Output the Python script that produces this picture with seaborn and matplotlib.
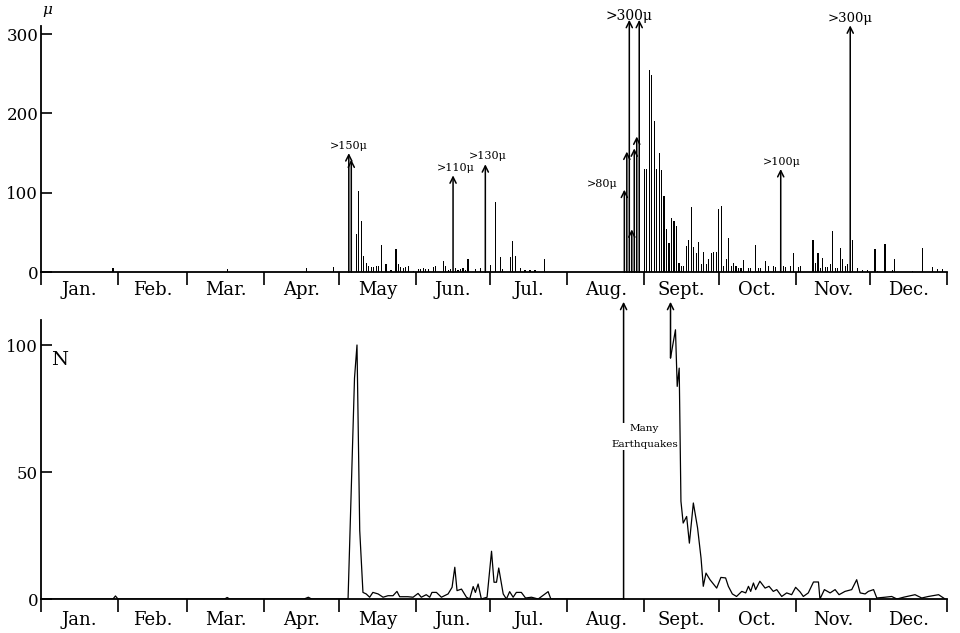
import matplotlib
matplotlib.use("Agg")
import matplotlib.pyplot as plt
import numpy as np
import pandas as pd
import seaborn as sns

month_names = ["Jan.", "Feb.", "Mar.", "Apr.", "May", "Jun.", "Jul.", "Aug.",
               "Sept.", "Oct.", "Nov.", "Dec."]
month_starts = [0, 31, 59, 90, 120, 151, 181, 212, 243, 273, 304, 334, 365]

# daily maximum amplitude (micron), by day of year
amp_days = [29, 75, 107, 118,
            127, 128, 129, 130, 131, 132, 133, 134, 135, 136, 137, 139, 141, 143, 144, 145,
            146, 147, 148, 150, 152, 153, 154, 155, 156, 158, 159, 162, 163, 164, 165, 167,
            168, 169, 170, 171, 172, 175, 177, 181, 183, 185, 186, 189, 190, 191, 193, 195,
            197, 199, 203,
            243, 244, 245, 246, 247, 248, 249, 250, 251, 252, 253, 254, 255, 256, 257, 258,
            259, 260, 261, 262, 263, 264, 265, 266, 267, 268, 269, 270, 271, 272, 273, 274,
            275, 276, 277, 278, 279, 280, 281, 282, 283, 285, 286, 288, 289, 290, 292, 293,
            295, 296, 299, 300, 302, 303, 305, 306, 311, 312, 313, 314, 315, 316, 317, 318,
            319, 320, 321, 322, 323, 324, 325, 327, 329, 331, 333, 336, 337, 340, 343, 344,
            351, 355, 359, 361, 363]
amp_values = [5, 4, 5, 6,
              48, 102, 65, 20, 12, 8, 7, 7, 8, 8, 34, 10, 3, 29, 10, 6,
              5, 7, 8, 2, 4, 4, 5, 4, 4, 6, 8, 14, 8, 3, 4, 5,
              3, 4, 5, 3, 16, 4, 5, 9, 88, 19, 4, 19, 39, 20, 5, 3,
              3, 3, 17,
              130, 130, 255, 249, 190, 130, 150, 129, 96, 54, 37, 68, 64, 58, 11, 8,
              8, 33, 41, 82, 32, 24, 38, 10, 25, 10, 17, 24, 25, 25, 80, 83,
              8, 16, 43, 8, 12, 8, 5, 5, 15, 5, 5, 34, 5, 5, 14, 8,
              8, 6, 8, 6, 8, 24, 7, 8, 41, 12, 24, 5, 18, 6, 6, 10,
              52, 5, 5, 30, 16, 8, 10, 40, 5, 3, 3, 29, 2, 36, 3, 16,
              2, 30, 6, 4, 4]

# days whose amplitude went off the instrument, drawn as arrows
arrow_days = [124, 125, 166, 179, 235, 236, 237, 238, 239, 240, 241, 298, 326]
arrow_values = [150, 142, 122, 136, 104, 152, 318, 54, 156, 171, 318, 130, 311]
label_days = [124, 166, 179, 235, 237, 298, 326]
label_texts = [">150μ", ">110μ", ">130μ", ">80μ", ">300μ", ">100μ", ">300μ"]

# number of shocks per day
count_days_a = [0, 29, 30, 31, 74, 75, 76, 106, 107.7, 109, 123.7, 126.3, 127.3, 128.4,
                129.7, 131, 132.4, 133.7, 135.8, 137.8, 139.8, 141.8, 143.4, 144.5,
                147.8, 149.9, 151.9, 153.2, 155.2, 156.6, 157.5, 159.3, 161.3, 164,
                165.6, 166.7, 167.6, 169.4, 171.4, 172.7, 174.1, 175, 176.1, 177.4,
                179.7, 181.5, 182.5, 183.5, 184.4, 186.2, 187.5, 188.8, 190.2, 191.5,
                193.5, 195.2, 197.6, 200.3, 204.3, 205.4, 234.7]
count_values_a = [0, 0, 1.2, 0, 0, 0.6, 0, 0, 0.7, 0, 0, 87, 100, 27,
                  2.6, 2, 0.7, 2.6, 2, 0.7, 1.3, 1.3, 3, 0.9,
                  0.9, 0.7, 2.2, 0.7, 1.7, 0.7, 2.6, 2.6, 0.7, 2,
                  4.6, 12.5, 3.3, 3.9, 0.7, 0, 4.9, 2.6, 5.9, 0,
                  0.7, 18.8, 6.6, 6.6, 12.2, 2, 0, 2.9, 0.7, 2.6,
                  2.6, 0.4, 0.7, 0, 2.9, 0, 0]
count_days_b = [253.6, 255.6, 256.3, 257.1, 257.8, 258.7, 260.1, 261.2, 262.8, 264.5,
                265.9, 266.8, 267.9, 269.5, 272.2, 273.9, 275.8, 276.9, 278.5, 280.2,
                282.3, 283.9, 285, 285.9, 287, 287.9, 289.6, 291.7, 293.3, 295,
                296.4, 298.4, 300.4, 302.4, 304, 305.8, 307.1, 309.1, 311.2, 313.2,
                313.8, 315.6, 317.9, 319.9, 321.5, 323.9, 326.6, 328.6, 330, 332,
                333.3, 335.4, 336.7, 340, 342.7, 344.8, 347.5, 352.1, 354.8, 357.5,
                361.6, 364.2]
count_values_b = [94.9, 106, 83.7, 90.9, 38.5, 29.9, 32.5, 22, 37.8, 28,
                  16.1, 5, 10.2, 7.6, 4.3, 8.5, 8.3, 5, 2, 1,
                  3, 2.4, 5, 3, 6.3, 3.7, 7, 4.3, 5, 3,
                  3.7, 1, 2.4, 1.7, 4.6, 2.8, 1, 2.4, 6.7, 6.7,
                  0, 3.7, 2.4, 3.7, 1.7, 3, 3.7, 7.6, 2.4, 2,
                  3, 3.7, 0.4, 0.7, 1, 0, 0.7, 1.7, 0.4, 1,
                  1.7, 0]
swarm_day = 234.7
off_scale_count = 117


def style_axis(ax, ymax, yticks, label_pad):
    mids = [(a + b) / 2 for a, b in zip(month_starts[:-1], month_starts[1:])]
    ax.set_xlim(0, 365)
    ax.set_ylim(0, ymax)
    ax.set_xticks(month_starts)
    ax.set_xticklabels([])
    ax.set_xticks(mids, minor=True)
    ax.set_xticklabels(month_names, minor=True)
    ax.tick_params(axis="x", which="major", direction="out", length=9, width=1.2)
    ax.tick_params(axis="x", which="minor", direction="out", length=0,
                   pad=label_pad, labelsize=13)
    ax.set_yticks(yticks)
    ax.tick_params(axis="y", direction="in", length=8, width=1.2, labelsize=12, pad=2)
    ax.set_xlabel("")
    ax.set_ylabel("")
    sns.despine(ax=ax)
    for side in ["left", "bottom"]:
        ax.spines[side].set_linewidth(1.3)
        ax.spines[side].set_color("black")


def main():
    sns.set_style("ticks")
    plt.rcParams["font.family"] = ["DejaVu Serif"]
    plt.rcParams["text.color"] = "black"
    plt.rcParams["xtick.color"] = "black"
    plt.rcParams["ytick.color"] = "black"

    fig = plt.figure(figsize=(9.6, 6.33), dpi=100)
    ax_top = fig.add_axes([0.0427, 0.570, 0.9438, 0.3886])
    ax_bot = fig.add_axes([0.0427, 0.0537, 0.9438, 0.4414])

    # upper panel: amplitudes
    amp = pd.DataFrame({"day": amp_days, "amp": amp_values})
    sns.barplot(data=amp, x="day", y="amp", native_scale=True, color="black",
                width=0.45, errorbar=None, linewidth=0, ax=ax_top)
    arrow_kw = dict(arrowstyle="->", lw=1.1, color="black", shrinkA=0, shrinkB=0,
                    mutation_scale=11)
    for d, v in zip(arrow_days, arrow_values):
        ax_top.annotate("", xy=(d, v), xytext=(d, 0), annotation_clip=False,
                        arrowprops=arrow_kw)
    offsets = [(0, 5), (2, 5), (2, 6), (-16, 4), (0, 3), (1, 5), (0, 5)]
    sizes = [8, 8, 8, 8, 10, 8, 9.5]
    tops = dict(zip(arrow_days, arrow_values))
    for d, txt, off, fs in zip(label_days, label_texts, offsets, sizes):
        ax_top.annotate(txt, xy=(d, tops[d]), xytext=off, textcoords="offset points",
                        ha="center", va="center", fontsize=fs, annotation_clip=False)
    style_axis(ax_top, 310, [0, 100, 200, 300], 6)

    # lower panel: number of shocks
    counts = pd.DataFrame({
        "day": count_days_a + count_days_b,
        "n": count_values_a + count_values_b,
        "part": ["a"] * len(count_days_a) + ["b"] * len(count_days_b),
    })
    sns.lineplot(data=counts, x="day", y="n", units="part", estimator=None,
                 color="black", lw=0.9, ax=ax_bot)
    ax_bot.annotate("", xy=(swarm_day, off_scale_count), xytext=(swarm_day, 0),
                    annotation_clip=False, arrowprops=arrow_kw)
    ax_bot.annotate("", xy=(count_days_b[0], off_scale_count),
                    xytext=(count_days_b[0], count_values_b[0]),
                    annotation_clip=False, arrowprops=arrow_kw)
    ax_bot.text(243.1, 64, "Many\nEarthquakes", ha="center", va="center", fontsize=7.5,
                linespacing=2.0, zorder=5,
                bbox=dict(facecolor="white", edgecolor="none", pad=0.5))
    style_axis(ax_bot, 110, [0, 50, 100], 8.5)

    fig.text(0.049, 0.984, "μ", ha="center", va="center", fontsize=11, style="italic")
    fig.text(0.0625, 0.431, "N", ha="center", va="center", fontsize=14)

    fig.savefig("out.png", dpi=100, facecolor="white")
    plt.close(fig)


if __name__ == "__main__":
    main()
